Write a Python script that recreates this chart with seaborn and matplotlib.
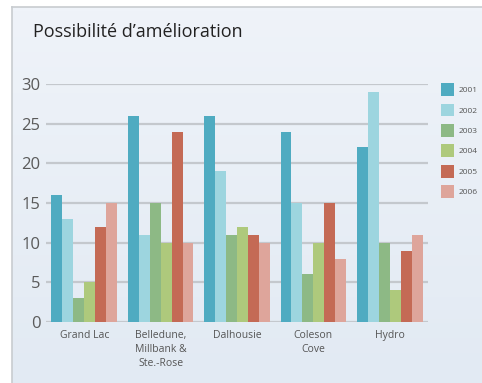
import pandas as pd
import numpy as np
import matplotlib
matplotlib.use('Agg')
import matplotlib.pyplot as plt
import seaborn as sns

sites = ['Grand Lac', 'Belledune,\nMillbank &\nSte.-Rose', 'Dalhousie', 'Coleson\nCove', 'Hydro']
years = ['2001', '2002', '2003', '2004', '2005', '2006']
v2001 = [16, 26, 26, 24, 22]
v2002 = [13, 11, 19, 15, 29]
v2003 = [3, 15, 11, 6, 10]
v2004 = [5, 10, 12, 10, 4]
v2005 = [12, 24, 11, 15, 9]
v2006 = [15, 10, 10, 8, 11]
colors = ['#4fabc1', '#9dd5df', '#8db985', '#aec97c', '#c46a55', '#dea59b']

rows = []
for yr, vals in zip(years, [v2001, v2002, v2003, v2004, v2005, v2006]):
    for s, v in zip(sites, vals):
        rows.append({'site': s, 'year': yr, 'value': v})
df = pd.DataFrame(rows)

sns.set_style('white')
plt.rcParams['font.family'] = ['Open Sans', 'DejaVu Sans']

fig = plt.figure(figsize=(4.82, 3.83), dpi=100)
fig.patch.set_facecolor('white')

# panel background with soft gradient
bg = fig.add_axes([12/482, 0, 1 - 12/482, 1 - 7/383])
grad = np.linspace(0, 1, 100).reshape(-1, 1)
cmap = matplotlib.colors.LinearSegmentedColormap.from_list('bg', ['#eff3f9', '#e2eaf3'])
bg.imshow(grad, aspect='auto', cmap=cmap, extent=[0, 1, 0, 1], origin='upper')
bg.set_xticks([])
bg.set_yticks([])
for sp in bg.spines.values():
    sp.set_color('#c8ccd0')
    sp.set_linewidth(1.2)
bg.spines['right'].set_visible(False)
bg.spines['bottom'].set_visible(False)

fig.text(33/482, 1 - 32/383, 'Possibilité d\u2019amélioration', fontsize=13,
         color='#222222', va='center', ha='left')

ax = fig.add_axes([46/482, 1 - 322/383, (428 - 46)/482, (322 - 84)/383])
ax.set_facecolor('none')
sns.barplot(data=df, x='site', y='value', hue='year', palette=colors,
            width=0.86, saturation=1, linewidth=0, ax=ax, zorder=3)
ax.set_ylim(0, 30)
ax.set_xlim(-0.5, 4.5)
ax.set_yticks([0, 5, 10, 15, 20, 25, 30])
ax.yaxis.grid(True, color='#c4c8cd', linewidth=1.6, zorder=0)
ax.set_axisbelow(True)
for sp in ax.spines.values():
    sp.set_visible(False)
ax.set_xlabel('')
ax.set_ylabel('')
ax.tick_params(axis='y', labelsize=12, labelcolor='#5a5a5a', length=0, pad=4)
ax.tick_params(axis='x', labelsize=7.5, labelcolor='#555555', length=0, pad=6)
for lbl in ax.get_xticklabels():
    lbl.set_linespacing(1.35)

handles, labels = ax.get_legend_handles_labels()
ax.legend(handles, labels, loc='upper left', bbox_to_anchor=(437/482, 1 - 79/383),
          bbox_transform=fig.transFigure, frameon=False, fontsize=6,
          handlelength=1.5, handleheight=2.0, labelspacing=0.9, handletextpad=0.6,
          labelcolor='#555555', borderpad=0)

fig.savefig('out.png', dpi=100)
